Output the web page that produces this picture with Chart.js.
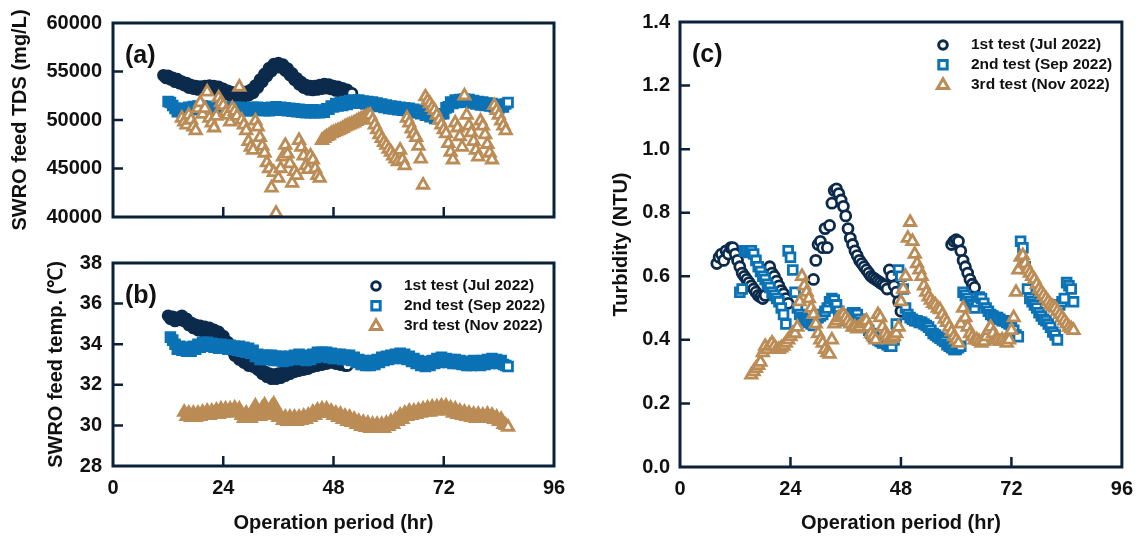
<!DOCTYPE html>
<html>
<head>
<meta charset="utf-8">
<script src="https://cdn.jsdelivr.net/npm/chart.js@4.4.1/dist/chart.umd.min.js"></script>
<style>
  body { margin: 0; background: #fff; width: 1143px; height: 539px; position: relative; overflow: hidden; }
  canvas { position: absolute; }
</style>
</head>
<body>
<canvas id="chartA" width="580" height="240" style="left:0;top:0"></canvas>
<canvas id="chartB" width="580" height="299" style="left:0;top:240px"></canvas>
<canvas id="chartC" width="563" height="539" style="left:580px;top:0"></canvas>
<script>
// sampling interval of the logged data (hr)
const SAMPLE_STEP = 0.5;

const testLabels = ['1st test (Jul 2022)', '2nd test (Sep 2022)', '3rd test (Nov 2022)'];
const hourTicks = [0, 24, 48, 72, 96];

// (a) SWRO feed TDS, mg/L
const tdsJulStart = 11;
const tdsJul = [
  54600,54350,54550,54200,54350,53950,54200,53800,53950,53600,
  53800,53350,53600,53250,53500,53150,53450,53150,53500,53200,
  53550,53200,53500,53100,53400,52900,53200,52700,53000,52550,
  52850,52450,52800,52400,52800,52450,52900,52550,53100,52800,
  53550,53350,54150,53950,54750,54550,55350,55050,55750,55450,
  55850,55450,55700,55100,55300,54650,54800,54150,54300,53700,
  53900,53350,53600,53150,53500,53100,53500,53150,53600,53250,
  53700,53300,53650,53200,53500,53050,53400,52950,53250,52800,
  53100,52700,52750
];
const tdsSepStart = 12;
const tdsSep = [
  51900,51800,51500,51200,50850,51100,50850,51200,50950,51300,
  51050,51400,51100,51450,51150,51450,51150,51400,51100,51400,
  51100,51350,51050,51350,51050,51300,51000,51300,51000,51300,
  51000,51300,51000,51250,50950,51250,50950,51300,51000,51300,
  51000,51250,50950,51250,50950,51300,51000,51350,51050,51300,
  51000,51250,50950,51200,50900,51150,50850,51100,50800,51050,
  50750,51050,50750,51050,50750,51000,50750,51000,50800,51150,
  51100,51450,51350,51700,51450,51800,51500,51900,51600,52000,
  51750,52050,51750,52050,51750,51950,51650,51900,51600,51850,
  51500,51750,51400,51650,51300,51550,51200,51450,51150,51400,
  51050,51300,51000,51250,50950,51200,50850,51100,50750,51000,
  50650,50900,50500,50750,50350,50550,50150,50400,50150,50650,
  50650,51250,51350,51850,51700,52050,51800,52100,51850,52150,
  51850,52100,51750,52000,51650,51900,51550,51850,51500,51750,
  51450,51700,51350,51600,51250,51600,51350,51650,51800
];
const tdsNovStart = 15;
const tdsNov = [
  50200,49800,49500,50500,50000,49300,48900,51200,51800,50600,
  51200,52900,50200,49700,49200,50400,52300,51800,51500,50800,
  50500,49800,51200,50900,50400,53400,50000,49500,48900,47800,
  47200,46900,49900,49300,48200,47300,46600,45600,45000,43000,
  44600,40400,44000,45000,46200,47400,46500,45500,43500,44700,
  44300,47900,47200,46300,45300,44900,46300,45900,45000,44300,
  44000,47900,48100,48300,48400,48600,48700,48800,48900,49000,
  49150,49300,49400,49500,49600,49700,49850,50000,50100,50200,
  50300,50450,50500,50000,49500,49000,48500,48100,47700,47400,
  47000,46700,46300,46000,45700,46900,45900,45300,50200,49700,
  49100,48600,48200,47300,46000,43300,52400,52000,51700,51300,
  51000,50500,50000,49500,49000,48600,47600,46700,45900,49700,
  49200,48300,47200,52500,50500,49400,48700,47800,46900,46200,
  49900,49400,48500,47500,46600,45900,51500,51000,50500,49900,
  49400,48900
];

// (b) SWRO feed temperature, deg C
const tempJulStart = 12;
const tempJul = [
  35.4,35.25,35.35,35.15,35.3,35.2,35.4,35.15,35.25,34.95,
  35.05,34.8,34.95,34.7,34.9,34.65,34.85,34.6,34.8,34.55,
  34.7,34.45,34.6,34.3,34.4,34.05,34.1,33.75,33.8,33.45,
  33.55,33.25,33.35,33.1,33.2,32.95,33.1,32.9,33.05,32.75,
  32.85,32.55,32.65,32.4,32.55,32.3,32.5,32.3,32.55,32.35,
  32.6,32.45,32.7,32.55,32.8,32.65,32.85,32.7,32.9,32.75,
  32.95,32.8,33.05,32.9,33.1,32.95,33.2,33.0,33.25,33.05,
  33.3,33.1,33.3,33.05,33.25,33.0,33.15,32.95,32.95
];
const tempSepStart = 12.5;
const tempSep = [
  34.35,34.2,34.0,33.75,33.9,33.7,33.85,33.65,33.85,33.65,
  33.9,33.75,34.0,33.85,34.1,33.9,34.1,33.9,34.05,33.85,
  34.0,33.8,34.0,33.8,33.95,33.75,33.95,33.75,33.9,33.7,
  33.9,33.65,33.85,33.6,33.8,33.55,33.7,33.4,33.5,33.25,
  33.45,33.25,33.45,33.25,33.45,33.2,33.4,33.2,33.4,33.15,
  33.35,33.2,33.4,33.25,33.45,33.3,33.5,33.25,33.45,33.2,
  33.4,33.25,33.5,33.35,33.6,33.4,33.6,33.4,33.6,33.35,
  33.55,33.3,33.5,33.3,33.5,33.25,33.45,33.25,33.45,33.2,
  33.35,33.1,33.25,33.0,33.2,32.95,33.15,32.95,33.2,33.0,
  33.25,33.1,33.35,33.2,33.4,33.25,33.45,33.3,33.5,33.35,
  33.55,33.3,33.5,33.25,33.4,33.15,33.3,33.05,33.2,32.95,
  33.15,32.9,33.1,32.95,33.2,33.05,33.3,33.1,33.35,33.15,
  33.3,33.1,33.25,33.05,33.25,33.05,33.2,33.0,33.15,32.95,
  33.15,32.95,33.2,33.0,33.15,32.95,33.2,33.0,33.25,33.05,
  33.3,33.1,33.25,33.05,33.2,33.0,32.95,32.9
];
const tempNovStart = 15.5;
const tempNov = [
  30.65,30.45,30.6,30.4,30.6,30.4,30.6,30.45,30.65,30.5,
  30.7,30.5,30.7,30.55,30.75,30.55,30.8,30.6,30.8,30.6,
  30.8,30.65,30.85,30.65,30.8,30.5,30.35,30.6,30.4,30.35,
  30.75,30.95,30.5,30.45,30.85,31.0,30.55,30.5,30.9,31.05,
  30.7,30.4,30.45,30.25,30.4,30.2,30.4,30.2,30.4,30.2,
  30.4,30.25,30.45,30.3,30.5,30.4,30.65,30.5,30.75,30.6,
  30.8,30.65,30.8,30.6,30.7,30.5,30.6,30.4,30.55,30.3,
  30.45,30.2,30.4,30.15,30.3,30.05,30.2,29.95,30.15,29.9,
  30.1,29.85,30.05,29.85,30.05,29.85,30.05,29.85,30.1,29.95,
  30.2,30.05,30.3,30.2,30.5,30.3,30.6,30.45,30.7,30.5,
  30.7,30.55,30.75,30.6,30.8,30.65,30.85,30.65,30.9,30.7,
  30.9,30.75,30.95,30.75,30.95,30.7,30.85,30.6,30.8,30.55,
  30.7,30.5,30.65,30.45,30.6,30.4,30.55,30.35,30.55,30.35,
  30.5,30.35,30.55,30.35,30.5,30.3,30.4,30.2,30.3,30.05,
  30.0,29.92
];

// (c) turbidity, NTU (null = no point shown)
const turbJulStart = 8;
const turbJul = [
  0.64,0.66,0.67,0.65,0.68,0.67,0.69,0.69,0.67,0.65,
  0.63,0.61,0.60,0.59,0.58,0.57,0.56,0.55,0.54,0.535,
  0.53,0.54,0.58,0.63,0.61,0.60,0.585,0.57,0.555,0.545,
  0.53,0.515,null,null,null,null,null,null,null,null,
  null,null,0.59,0.65,0.70,0.71,0.69,0.75,0.69,0.76,
  0.83,0.87,0.875,0.86,0.84,0.82,0.79,0.75,0.72,0.70,
  0.68,0.665,0.65,0.64,0.63,0.62,0.61,0.60,0.595,0.59,
  0.585,0.58,0.575,0.57,0.56,0.62,0.60,0.57,0.55,0.52,
  0.49,null,null,null,null,null,null,null,null,null,
  null,null,null,null,null,null,null,null,null,null,
  null,null,0.70,0.71,0.715,0.71,0.68,0.65,0.63,0.61,
  0.59,0.575,0.565
];
const turbSepStart = 13;
const turbSep = [
  0.55,0.56,0.68,0.68,0.675,0.68,0.67,0.65,0.63,0.615,
  0.60,0.59,0.575,0.565,0.55,0.54,0.53,0.52,0.50,0.48,
  0.45,0.68,0.66,0.62,0.55,0.50,0.48,0.47,0.465,0.46,
  0.455,0.45,0.445,0.46,0.47,0.475,0.48,0.49,0.50,0.52,
  0.53,0.525,0.51,0.49,0.475,0.465,0.46,0.47,0.48,0.485,
  0.485,0.48,0.465,0.455,0.445,0.44,0.43,0.42,0.41,0.405,
  0.40,0.395,0.39,0.39,0.385,0.38,0.38,0.40,0.45,0.62,
  0.60,0.56,0.50,0.48,0.47,0.465,0.46,0.46,0.455,0.455,
  0.45,0.445,0.44,0.43,0.42,0.415,0.41,0.405,0.40,0.395,
  0.385,0.38,0.375,0.37,0.37,0.375,0.38,0.55,0.54,0.53,
  0.52,0.51,0.50,0.52,0.535,0.53,0.515,0.50,0.49,0.48,
  0.475,0.47,0.47,0.465,0.46,0.46,0.455,0.45,0.44,0.43,
  0.415,0.41,0.71,0.69,0.63,0.56,0.53,0.52,0.51,0.50,
  0.485,0.475,0.465,0.46,0.45,0.44,0.425,0.415,0.40,0.51,
  0.52,0.53,0.58,0.57,0.56,0.52
];
const turbNovStart = 15.5;
const turbNov = [
  0.29,0.30,0.31,0.32,0.33,0.36,0.38,0.37,0.38,0.39,
  0.38,0.37,0.37,0.375,0.38,0.39,0.40,0.41,0.42,0.42,
  0.44,0.52,0.60,0.57,0.55,0.53,0.50,0.48,0.45,0.42,
  0.40,0.39,0.37,0.36,0.355,0.40,0.45,0.46,0.47,0.475,
  0.48,0.47,0.46,0.45,0.44,0.44,0.435,0.44,0.45,0.455,
  0.46,0.44,0.42,0.41,0.40,0.48,0.47,0.44,0.42,0.41,
  0.40,0.405,0.41,0.42,0.44,0.52,0.56,0.60,0.72,0.77,
  0.71,0.67,0.64,0.62,0.60,0.57,0.55,0.535,0.525,0.515,
  0.51,0.50,0.495,0.48,0.465,0.455,0.44,0.425,0.41,0.40,
  0.39,0.45,0.50,0.47,0.44,0.42,0.41,0.40,0.40,0.395,
  0.39,0.395,0.41,0.43,0.44,0.42,0.40,0.40,0.395,0.40,
  0.395,0.39,0.40,0.43,0.47,0.55,0.62,0.66,0.665,0.64,
  0.62,0.61,0.60,0.59,0.575,0.56,0.55,0.54,0.53,0.52,
  0.51,0.505,0.50,0.49,0.48,0.47,0.46,0.45,0.44,0.435,0.43
];

const julColor = '#0c2b4c';
const sepColor = '#0b72b5';
const novColor = '#bb8c55';
const frameColor = '#0b213a';
const textColor = '#111';
const fontFamily = '"Liberation Sans", Arial, sans-serif';

Chart.defaults.font.family = fontFamily;
Chart.defaults.color = textColor;

function series(start, values) {
  return values.map((v, i) => ({ x: start + i * SAMPLE_STEP, y: v }));
}

const markerSize = { circle: 5, rect: 6.2, triangle: 6.5 };

// dense logs merge into a solid band; only the last marker stays open
function dataset(label, data, style, color, order, solid) {
  const last = data.length - 1;
  return {
    label: label,
    data: data,
    order: order,
    showLine: false,
    pointStyle: style,
    pointRadius: markerSize[style],
    pointBorderWidth: 2.8,
    pointBorderColor: color,
    pointBackgroundColor: solid ? (c => c.dataIndex === last ? '#fff' : color) : '#fff'
  };
}

function drawMarker(ctx, style, x, y, color) {
  ctx.save();
  ctx.strokeStyle = color;
  ctx.fillStyle = '#fff';
  ctx.lineWidth = 3;
  ctx.beginPath();
  if (style === 'circle') {
    ctx.arc(x, y, 4.3, 0, Math.PI * 2);
  } else if (style === 'rect') {
    ctx.rect(x - 4.2, y - 4.2, 8.4, 8.4);
  } else {
    ctx.moveTo(x, y - 5.6);
    ctx.lineTo(x + 5.6, y + 4);
    ctx.lineTo(x - 5.6, y + 4);
    ctx.closePath();
  }
  ctx.fill();
  ctx.stroke();
  ctx.restore();
}

// frame, inward tick marks, panel letter and legend
function panelDecor(letter, yInner, showLegend) {
  return {
    id: 'panelDecor',
    afterDatasetsDraw(chart) {
      const ctx = chart.ctx;
      const a = chart.chartArea;
      const sx = chart.scales.x, sy = chart.scales.y;
      ctx.save();
      ctx.strokeStyle = frameColor;
      ctx.lineWidth = 2.5;
      ctx.beginPath();
      [24, 48, 72].forEach(v => {
        const px = sx.getPixelForValue(v);
        ctx.moveTo(px, a.bottom);
        ctx.lineTo(px, a.bottom - 10);
      });
      yInner.forEach(v => {
        const py = sy.getPixelForValue(v);
        ctx.moveTo(a.left, py);
        ctx.lineTo(a.left + 10, py);
      });
      ctx.stroke();
      ctx.lineWidth = 3;
      ctx.strokeRect(a.left, a.top, a.right - a.left, a.bottom - a.top);

      ctx.fillStyle = textColor;
      ctx.textBaseline = 'middle';
      ctx.textAlign = 'left';
      ctx.font = 'bold 25px ' + fontFamily;
      ctx.fillText(letter, a.left + 12, a.top + 33);

      if (showLegend) {
        const styles = ['circle', 'rect', 'triangle'];
        const colors = [julColor, sepColor, novColor];
        ctx.font = 'bold 15.5px ' + fontFamily;
        testLabels.forEach((t, i) => {
          const my = a.top + 23 + i * 19.7;
          drawMarker(ctx, styles[i], a.left + 263, my, colors[i]);
          ctx.fillStyle = textColor;
          ctx.fillText(t, a.left + 291, my);
        });
      }
      ctx.restore();
    }
  };
}

function makeScales(o) {
  return {
    x: {
      type: 'linear',
      min: hourTicks[0],
      max: hourTicks[hourTicks.length - 1],
      grid: { display: false, drawTicks: false },
      border: { display: false },
      afterBuildTicks: s => { s.ticks = hourTicks.map(v => ({ value: v })); },
      ticks: {
        display: o.showX,
        padding: 10,
        maxRotation: 0,
        autoSkip: false,
        color: textColor,
        font: { size: 20, weight: 'bold' }
      },
      title: {
        display: o.showX,
        text: 'Operation period (hr)',
        color: textColor,
        font: { size: 20, weight: 'bold' },
        padding: { top: 0, bottom: 4 }
      },
      afterFit: s => { s.height = o.xHeight; }
    },
    y: {
      type: 'linear',
      min: o.yMin,
      max: o.yMax,
      grid: { display: false, drawTicks: false },
      border: { display: false },
      ticks: {
        stepSize: o.yStep,
        padding: o.yPad,
        color: textColor,
        font: { size: 20, weight: 'bold' },
        callback: o.yFormat
      },
      title: {
        display: true,
        text: o.yTitle,
        color: textColor,
        font: { size: 20, weight: 'bold' },
        padding: { top: o.yTitlePad, bottom: 0 }
      },
      afterFit: s => { s.width = o.yWidth; }
    }
  };
}

function makeChart(id, datasets, scales, padding, decor) {
  return new Chart(document.getElementById(id), {
    type: 'scatter',
    data: { datasets: datasets },
    options: {
      responsive: false,
      animation: false,
      events: [],
      layout: { padding: padding },
      scales: scales,
      plugins: { legend: { display: false }, tooltip: { enabled: false } }
    },
    plugins: [decor]
  });
}

makeChart('chartA', [
  dataset(testLabels[0], series(tdsJulStart, tdsJul), 'circle', julColor, 3, true),
  dataset(testLabels[1], series(tdsSepStart, tdsSep), 'rect', sepColor, 2, true),
  dataset(testLabels[2], series(tdsNovStart, tdsNov), 'triangle', novColor, 1, false)
], makeScales({
  showX: false, xHeight: 16,
  yMin: 40000, yMax: 60000, yStep: 5000, yPad: 11,
  yFormat: v => String(v),
  yTitle: 'SWRO feed TDS (mg/L)', yTitlePad: 8, yWidth: 113
}), { top: 20, right: 26, left: 0, bottom: 0 }, panelDecor('(a)', [45000, 50000, 55000], false));

makeChart('chartB', [
  dataset(testLabels[0], series(tempJulStart, tempJul), 'circle', julColor, 3, true),
  dataset(testLabels[1], series(tempSepStart, tempSep), 'rect', sepColor, 2, true),
  dataset(testLabels[2], series(tempNovStart, tempNov), 'triangle', novColor, 1, true)
], makeScales({
  showX: true, xHeight: 73,
  yMin: 28, yMax: 38, yStep: 2, yPad: 11,
  yFormat: v => String(v),
  yTitle: 'SWRO feed temp. (℃)', yTitlePad: 44, yWidth: 113
}), { top: 22, right: 26, left: 0, bottom: 0 }, panelDecor('(b)', [30, 32, 34, 36], true));

makeChart('chartC', [
  dataset(testLabels[0], series(turbJulStart, turbJul), 'circle', julColor, 3, false),
  dataset(testLabels[1], series(turbSepStart, turbSep), 'rect', sepColor, 2, false),
  dataset(testLabels[2], series(turbNovStart, turbNov), 'triangle', novColor, 1, false)
], makeScales({
  showX: true, xHeight: 72,
  yMin: 0, yMax: 1.4, yStep: 0.2, yPad: 10,
  yFormat: v => Number(v).toFixed(1),
  yTitle: 'Turbidity (NTU)', yTitlePad: 29, yWidth: 100
}), { top: 20, right: 21, left: 0, bottom: 0 }, panelDecor('(c)', [0.2, 0.4, 0.6, 0.8, 1.0, 1.2], true));
</script>
</body>
</html>
